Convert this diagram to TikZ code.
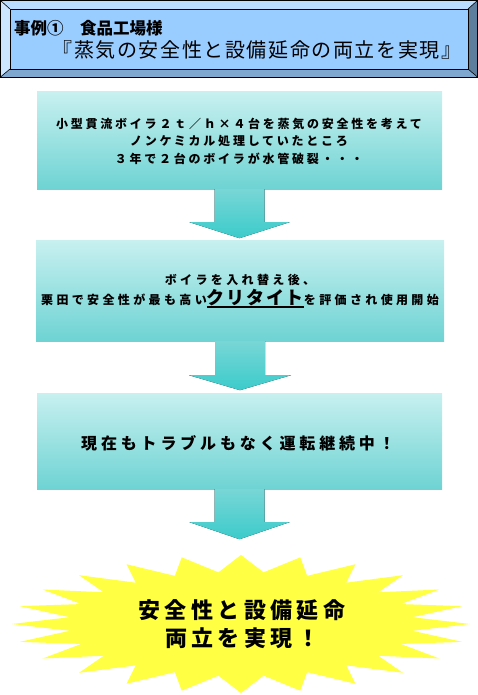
\documentclass[tikz,border=0pt]{standalone}
\usepackage{fontspec}
\setmainfont{Noto Sans CJK JP}
\newfontfamily\jpbody[LetterSpace=23]{Noto Sans CJK JP}
\newfontfamily\jpwide[LetterSpace=28]{Noto Sans CJK JP}
\newfontfamily\jpbig[LetterSpace=24]{Noto Sans CJK JP}
\newfontfamily\jpstar[LetterSpace=20]{Noto Sans CJK JP}
\newfontfamily\jpkuri[LetterSpace=10]{Noto Sans CJK JP}
\newfontfamily\jptitle{Noto Sans CJK JP}
\newfontfamily\jptitlewide[LetterSpace=8]{Noto Sans CJK JP}
\newcommand\thickul[1]{\setbox0\hbox{#1}\rlap{\raisebox{-3pt}{\rule{\wd0}{1.6pt}}}\box0}
\definecolor{bevtop}{HTML}{BADCFF}
\definecolor{bevleft}{HTML}{CCE6FF}
\definecolor{bevbot}{HTML}{7FA8D0}
\definecolor{bevright}{HTML}{5E7E9E}
\definecolor{titlefill}{HTML}{99CCFF}
\definecolor{boxtop}{HTML}{C8F0F0}
\definecolor{boxmid}{HTML}{B6EAEA}
\definecolor{boxbot}{HTML}{6ED3D3}
\definecolor{arrtop}{HTML}{78D6D6}
\definecolor{arrbot}{HTML}{3CCBCB}
\definecolor{staryellow}{HTML}{FFFF44}
\tikzset{
  stepbox/.style={rectangle, inner sep=0pt, top color=boxtop, middle color=boxmid, bottom color=boxbot},
  downarrow/.style={top color=arrtop, bottom color=arrbot, draw=none},
  bodytext/.style={align=center, text=black, inner sep=0pt}
}
\begin{document}
\begin{tikzpicture}[x=1pt,y=-1pt]
\useasboundingbox (0,0) rectangle (478,695);
% title bevel
\fill[bevtop] (0,0) -- (478,0) -- (468,9) -- (10,9) -- cycle;
\fill[bevleft] (0,0) -- (10,9) -- (10,69) -- (0,77) -- cycle;
\fill[bevbot] (0,77) -- (10,69) -- (468,69) -- (478,77) -- cycle;
\fill[bevright] (478,0) -- (468,9) -- (468,69) -- (478,77) -- cycle;
\fill[titlefill] (10,9) rectangle (468,69);
\draw[black, line width=0.8pt] (0.5,0.5) rectangle (477.5,77);
\draw[black, line width=0.8pt] (10,9) rectangle (468,69);
\draw[black, line width=0.6pt] (0.5,0.5) -- (10,9) (477.5,0.5) -- (468,9) (0.5,77) -- (10,69) (477.5,77) -- (468,69);
\node[anchor=west, inner sep=0pt, font=\jptitle\bfseries\fontsize{16.5}{18}\selectfont] (t1) at (14,28) {事例①　食品工場様};
\node[inner sep=0pt, font=\jptitlewide\fontsize{20}{24}\selectfont] (t2) at (257,50) {『蒸気の安全性と設備延命の両立を実現』};

% boxes
\node[stepbox, minimum width=405pt, minimum height=97pt] (b1) at (239.5,140.5) {};
\node[stepbox, minimum width=408pt, minimum height=101pt] (b2) at (240,290.5) {};
\node[stepbox, minimum width=405pt, minimum height=96pt] (b3) at (239.5,441) {};

% arrows
\fill[downarrow] (b1.south) ++(-25,0) -- ++(50,0) -- ++(0,33) -- ++(25,0) -- ++(-50,16) -- ++(-50,-16) -- ++(25,0) -- cycle;
\fill[downarrow] (b2.south) ++(-25,0) -- ++(50,0) -- ++(0,34) -- ++(26,0) -- ++(-51,15) -- ++(-51,-15) -- ++(26,0) -- cycle;
\fill[downarrow] (b3.south) ++(-25,0) -- ++(50,0) -- ++(0,33) -- ++(25,0) -- ++(-50,17) -- ++(-50,-17) -- ++(25,0) -- cycle;

% star
\fill[staryellow] plot[samples=49, domain=0:48, variable=\k]
  ({241 + ifthenelse(mod(\k,2)==0,1,0.755)*229*cos(\k*7.5)},
   {624 + ifthenelse(mod(\k,2)==0,1,0.755)*69*sin(\k*7.5)}) -- cycle;

% texts
\node[bodytext, font=\jpbody\bfseries\fontsize{12}{17.5}\selectfont] (x1) at (239,141)
  {小型貫流ボイラ２ｔ／ｈ×４台を蒸気の安全性を考えて\\ノンケミカル処理していたところ\\３年で２台のボイラが水管破裂・・・};
\node[bodytext, font=\jpwide\bfseries\fontsize{12}{20}\selectfont] (x2) at (240,291)
  {ボイラを入れ替え後、\\栗田で安全性が最も高い{\jpkuri\bfseries\fontsize{18}{20}\selectfont\thickul{クリタイト}}を評価され使用開始};
\node[bodytext, font=\jpbig\bfseries\fontsize{16}{20}\selectfont] (x3) at (238,443)
  {現在もトラブルもなく運転継続中！};
\node[bodytext, font=\jpstar\bfseries\fontsize{22}{28}\selectfont] (x4) at (242,624)
  {安全性と設備延命\\両立を実現！};
\end{tikzpicture}
\end{document}
